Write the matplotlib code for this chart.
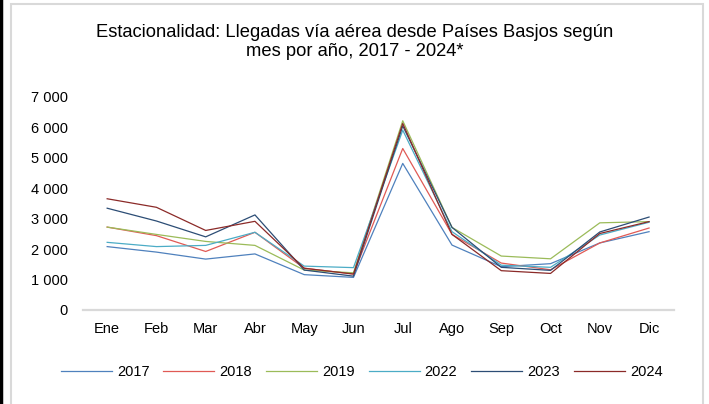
import matplotlib
matplotlib.use("Agg")
import matplotlib.pyplot as plt
from matplotlib.patches import Rectangle
from matplotlib.lines import Line2D

plt.rcParams['font.family'] = ['Liberation Sans', 'DejaVu Sans']

meses = ["Ene", "Feb", "Mar", "Abr", "May", "Jun", "Jul", "Ago", "Sep", "Oct", "Nov", "Dic"]

# llegadas por mes
v2017 = [2080, 1900, 1670, 1840, 1160, 1070, 4810, 2130, 1420, 1520, 2200, 2570]
v2018 = [2720, 2440, 1920, 2550, 1370, 1180, 5300, 2480, 1540, 1320, 2200, 2690]
v2019 = [2720, 2480, 2250, 2120, 1310, 1220, 6210, 2710, 1770, 1680, 2860, 2900]
v2022 = [2220, 2080, 2120, 2550, 1440, 1390, 5900, 2570, 1470, 1400, 2460, 2880]
v2023 = [3340, 2920, 2400, 3120, 1310, 1110, 6040, 2710, 1400, 1300, 2560, 3050]
v2024 = [3650, 3370, 2610, 2910, 1370, 1180, 6120, 2480, 1290, 1200, 2510, 2900]

anios = ["2017", "2018", "2019", "2022", "2023", "2024"]
series = [v2017, v2018, v2019, v2022, v2023, v2024]
colores = ["#4F81BD", "#E05A55", "#9BBB59", "#4BACC6", "#2C4D75", "#8B2A28"]

fig = plt.figure(figsize=(7.09, 4.04), dpi=100)
ax = fig.add_axes([0.1164, 0.2327, 0.8338, 0.528])

x = range(len(meses))
for vals, col, lab in zip(series, colores, anios):
    ax.plot(x, vals, color=col, lw=0.9, label=lab)

ax.set_xlim(-0.5, 11.5)
ax.set_ylim(0, 7000)
ax.set_yticks(range(0, 7001, 1000))
ax.set_yticklabels([f"{v:,}".replace(",", " ") for v in range(0, 7001, 1000)])
ax.set_xticks(list(x))
ax.set_xticklabels(meses)
ax.tick_params(axis='both', length=0, labelsize=10.5, colors="black")
ax.tick_params(axis='y', pad=10.5)
ax.tick_params(axis='x', pad=9)
for s in ["top", "right", "left"]:
    ax.spines[s].set_visible(False)
ax.spines["bottom"].set_color("#D9D9D9")
ax.spines["bottom"].set_linewidth(1.6)

fig.text(0.5, 0.895, "Estacionalidad: Llegadas vía aérea desde Países Basjos según\nmes por año, 2017 - 2024*",
         ha="center", va="center", fontsize=13.2, linespacing=1.15)

fig.legend(loc="center", bbox_to_anchor=(0.51, 0.079), ncol=6, frameon=False,
           fontsize=10.5, handlelength=3.5, handletextpad=0.35, columnspacing=0.95)

# marco
fig.patches.append(Rectangle((11 / 709, -0.01), 692 / 709, 1.0, transform=fig.transFigure,
                             fill=False, edgecolor="#D9D9D9", lw=1.5))
fig.lines.append(Line2D([0.0015, 0.0015], [0, 1], transform=fig.transFigure, color="black", lw=2.5))

fig.savefig("out.png", dpi=100)
